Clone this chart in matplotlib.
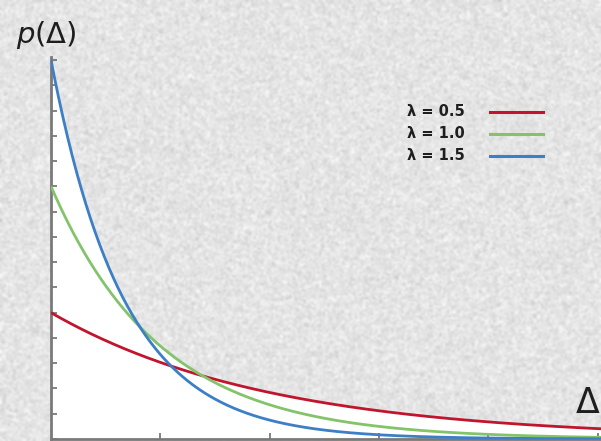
import numpy as np
import matplotlib
matplotlib.use("Agg")
import matplotlib.pyplot as plt

# Exponential waiting-time densities p(Δ) = λ·exp(-λΔ)
lambdas = [0.5, 1.0, 1.5]
legend_labels = ["λ = 0.5", "λ = 1.0", "λ = 1.5"]
line_colors = ["#c1152d", "#83c46b", "#3c7fc7"]

x_max = 5.03
y_ticks = np.round(np.arange(0, 1.51, 0.1), 2)
x_ticks = [1, 2, 3, 4, 5]

W, H = 601, 441
fig = plt.figure(figsize=(W / 100, H / 100), dpi=100)

# Mottled paper-like backdrop
rng = np.random.default_rng(7)
tex = 0.895 + 0.04 * rng.standard_normal((H // 2 + 1, W // 2 + 1))
bg = fig.add_axes([0, 0, 1, 1], zorder=0)
bg.imshow(np.clip(tex, 0, 1), cmap="gray", vmin=0, vmax=1,
          interpolation="bicubic", aspect="auto", extent=[0, 1, 0, 1])
bg.set_axis_off()

# Plot area: Δ=0 at x=51 px, p=0 at y=439 px, p=1.5 at y=60 px
left = 51 / W
bottom = (H - 439) / H
ax = fig.add_axes([left, bottom, 1 - left, (439 - 60) / H], zorder=1)
ax.patch.set_alpha(0)

x = np.linspace(0, x_max, 600)
curves = [lam * np.exp(-lam * x) for lam in lambdas]
envelope = np.max(curves, axis=0)
ax.fill_between(x, 0, envelope, color="white", zorder=1, lw=0)

for y, c in zip(curves, line_colors):
    ax.plot(x, y, color=c, lw=2.0, zorder=3, solid_capstyle="butt")

ax.set_xlim(0, x_max)
ax.set_ylim(0, 1.5)
ax.set_xticks(x_ticks)
ax.set_yticks(y_ticks)
ax.set_xticklabels([])
ax.set_yticklabels([])
ax.tick_params(direction="in", length=4, width=1.2, color="#6e6e6e")
for s in ["top", "right"]:
    ax.spines[s].set_visible(False)
for s in ["left", "bottom"]:
    ax.spines[s].set_color("#7a7a7a")
    ax.spines[s].set_linewidth(2.0)
ax.spines["left"].set_bounds(0, 1.51)

# Legend drawn as text plus short line samples
legend_y = [112, 134, 156]
for lab, c, ypx in zip(legend_labels, line_colors, legend_y):
    yf = (H - ypx) / H
    fig.text(407 / W, yf, lab, fontsize=10.5, fontweight="bold",
             color="#1e1e1e", va="center", ha="left", zorder=5)
    fig.add_artist(plt.Line2D([490 / W, 543 / W], [yf, yf], color=c,
                              lw=2.2, zorder=5))

# Axis titles
fig.text(16 / W, (H - 43) / H, r"$p$(Δ)", fontsize=21, color="#1e1e1e",
         ha="left", va="baseline", zorder=5)
fig.text(576 / W, (H - 413) / H, "Δ", fontsize=25, color="#1e1e1e",
         ha="left", va="baseline", zorder=5)

fig.savefig("out.png", dpi=100)
